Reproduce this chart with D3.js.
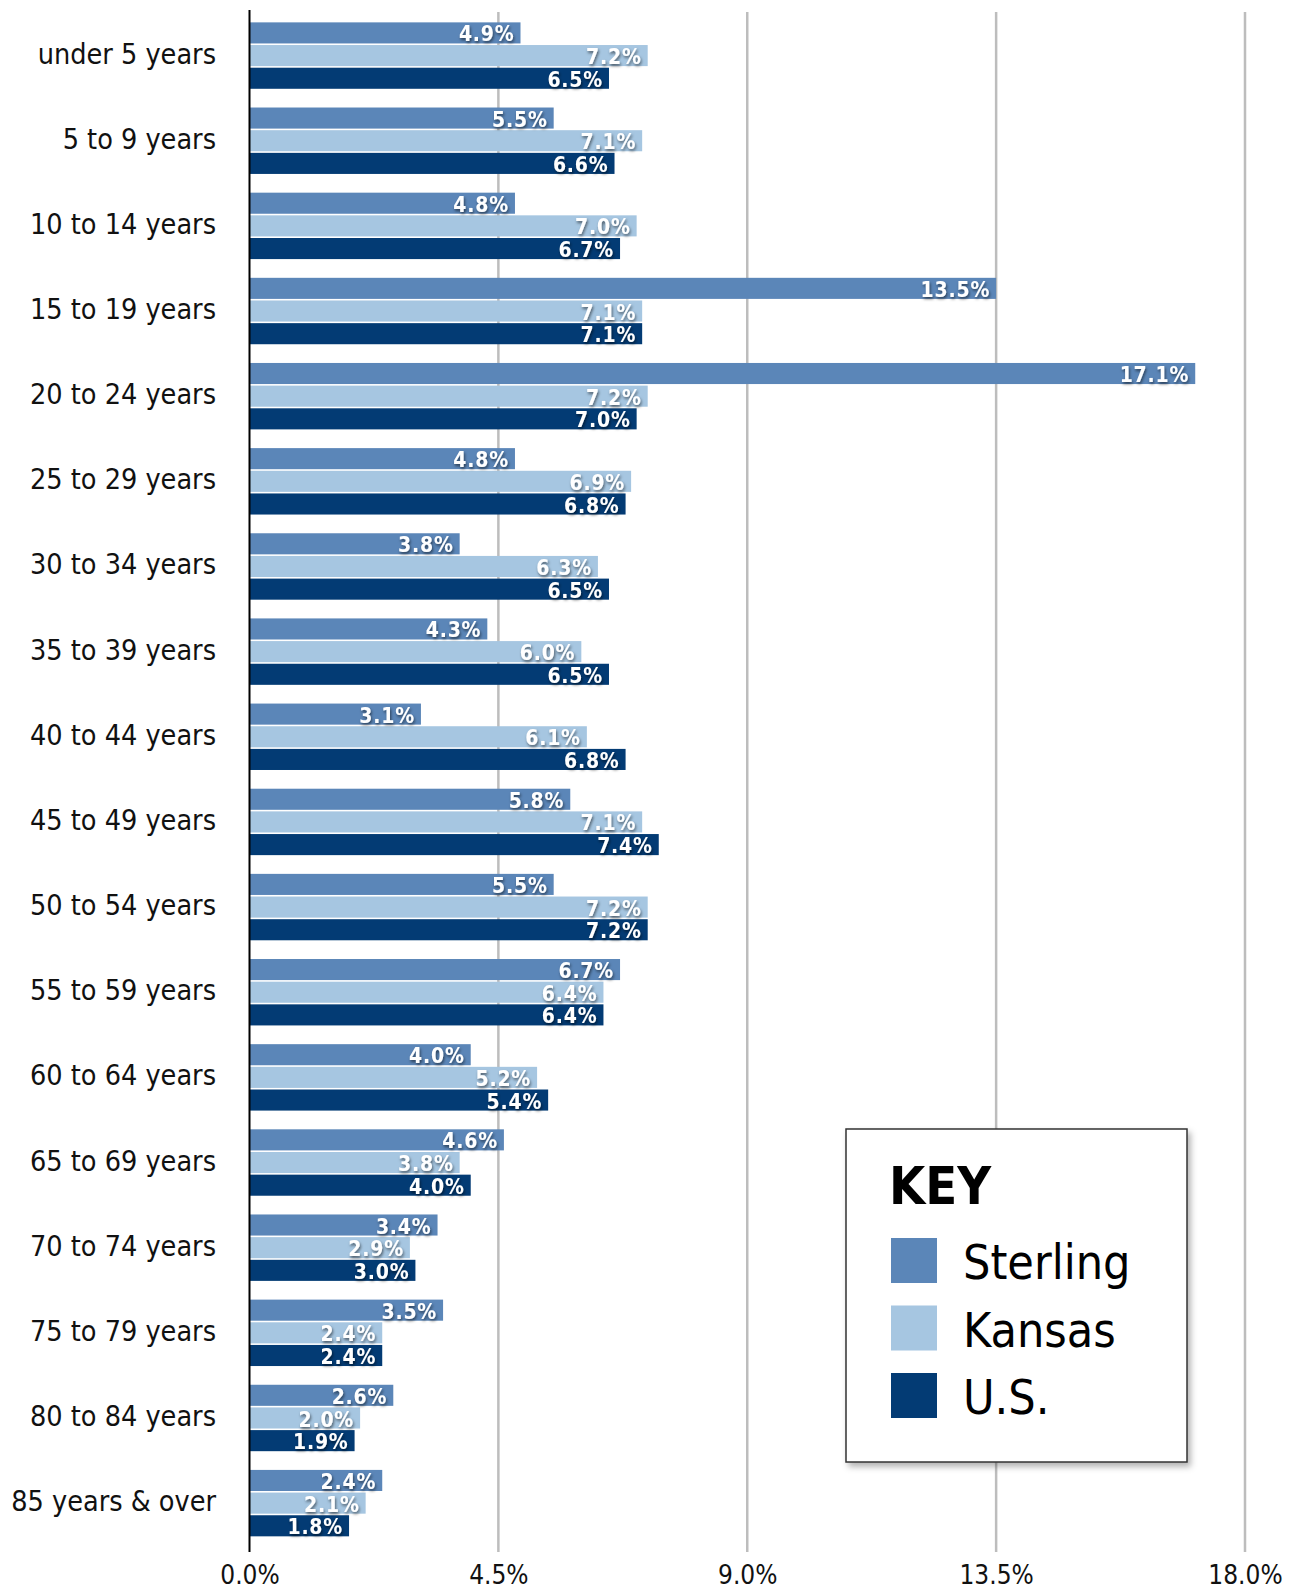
<!DOCTYPE html>
<html>
<head>
<meta charset="utf-8">
<script src="https://cdn.jsdelivr.net/npm/d3@7"></script>
<style>
  body { margin: 0; background: #fff; }
  svg { display: block; }
</style>
</head>
<body>
<script>
// age groups, top to bottom
var ageGroups = ['under 5 years', '5 to 9 years', '10 to 14 years', '15 to 19 years',
    '20 to 24 years', '25 to 29 years', '30 to 34 years', '35 to 39 years',
    '40 to 44 years', '45 to 49 years', '50 to 54 years', '55 to 59 years',
    '60 to 64 years', '65 to 69 years', '70 to 74 years', '75 to 79 years',
    '80 to 84 years', '85 years & over'];

var sterling = [4.9, 5.5, 4.8, 13.5, 17.1, 4.8, 3.8, 4.3, 3.1, 5.8, 5.5, 6.7, 4.0, 4.6, 3.4, 3.5, 2.6, 2.4];
var kansas   = [7.2, 7.1, 7.0, 7.1, 7.2, 6.9, 6.3, 6.0, 6.1, 7.1, 7.2, 6.4, 5.2, 3.8, 2.9, 2.4, 2.0, 2.1];
var us       = [6.5, 6.6, 6.7, 7.1, 7.0, 6.8, 6.5, 6.5, 6.8, 7.4, 7.2, 6.4, 5.4, 4.0, 3.0, 2.4, 1.9, 1.8];

var seriesNames = ['Sterling', 'Kansas', 'U.S.'];
var seriesColors = ['#5b86b8', '#a6c6e1', '#033b74'];
var xTicks = [0, 4.5, 9, 13.5, 18];

var width = 1296,
    height = 1590;

var svg = d3.select('body').append('svg')
    .attr('width', width)
    .attr('height', height);

var defs = svg.append('defs');
defs.append('filter')
    .attr('id', 'txt-shadow')
    .attr('x', '-20%').attr('y', '-30%').attr('width', '140%').attr('height', '180%')
    .append('feDropShadow')
    .attr('dx', 1).attr('dy', 2).attr('stdDeviation', 1.6)
    .attr('flood-color', '#000').attr('flood-opacity', 0.55);
defs.append('filter')
    .attr('id', 'box-shadow')
    .attr('x', '-10%').attr('y', '-10%').attr('width', '130%').attr('height', '130%')
    .append('feDropShadow')
    .attr('dx', 3).attr('dy', 4).attr('stdDeviation', 3)
    .attr('flood-color', '#000').attr('flood-opacity', 0.3);

var x = d3.scaleLinear().domain([0, 18]).range([249.5, 1245]);

var y = d3.scaleBand()
    .domain(ageGroups)
    .range([13, 1545.7])
    .paddingInner(0.22)
    .paddingOuter(0.11);

var ySub = d3.scaleBand()
    .domain(seriesNames)
    .range([0, y.bandwidth()])
    .paddingInner(0.07);

var rows = ageGroups.map(function(g, i) {
    return {group: g, values: [sterling[i], kansas[i], us[i]]};
});

// gridlines
svg.append('g').attr('class', 'grid')
    .selectAll('line')
    .data(xTicks.slice(1))
    .enter().append('line')
    .attr('x1', function(d) { return x(d); })
    .attr('x2', function(d) { return x(d); })
    .attr('y1', 12)
    .attr('y2', 1552)
    .attr('stroke', '#bdbdbd')
    .attr('stroke-width', 2.5);

// bars
var groupG = svg.append('g').selectAll('g')
    .data(rows)
    .enter().append('g')
    .attr('transform', function(d) { return 'translate(0,' + y(d.group) + ')'; });

groupG.selectAll('rect')
    .data(function(d) { return d.values.map(function(v, j) { return {key: seriesNames[j], value: v, idx: j}; }); })
    .enter().append('rect')
    .attr('x', x(0))
    .attr('y', function(d) { return ySub(d.key); })
    .attr('width', function(d) { return x(d.value) - x(0); })
    .attr('height', ySub.bandwidth())
    .attr('fill', function(d) { return seriesColors[d.idx]; });

groupG.selectAll('text')
    .data(function(d) { return d.values.map(function(v, j) { return {key: seriesNames[j], value: v}; }); })
    .enter().append('text')
    .attr('x', function(d) { return x(d.value) - 6; })
    .attr('y', function(d) { return ySub(d.key) + ySub.bandwidth() - 2; })
    .attr('text-anchor', 'end')
    .attr('font-family', '"DejaVu Sans Condensed", "DejaVu Sans", sans-serif')
    .attr('font-weight', 'bold')
    .attr('font-size', 21)
    .attr('letter-spacing', 0.8)
    .attr('fill', '#fff')
    .attr('filter', 'url(#txt-shadow)')
    .text(function(d) { return d.value.toFixed(1) + '%'; });

// category labels
svg.append('g').selectAll('text')
    .data(ageGroups)
    .enter().append('text')
    .attr('x', 216)
    .attr('y', function(d) { return y(d) + y.bandwidth() / 2 - 2; })
    .attr('dy', '0.35em')
    .attr('text-anchor', 'end')
    .attr('font-family', '"DejaVu Sans Condensed", "DejaVu Sans", sans-serif')
    .attr('font-size', 28.5)
    .attr('fill', '#111')
    .text(function(d) { return d; });

// y axis line
svg.append('line')
    .attr('x1', x(0)).attr('x2', x(0))
    .attr('y1', 10).attr('y2', 1552)
    .attr('stroke', '#000')
    .attr('stroke-width', 2);

// x tick labels
var xAxis = d3.axisBottom(x)
    .tickValues(xTicks)
    .tickSize(0)
    .tickPadding(0)
    .tickFormat(function(d) { return d.toFixed(1) + '%'; });

var axisG = svg.append('g')
    .attr('transform', 'translate(0,1563)')
    .call(xAxis);
axisG.select('.domain').remove();
axisG.selectAll('text')
    .attr('font-family', '"DejaVu Sans Condensed", "DejaVu Sans", sans-serif')
    .attr('font-size', 26)
    .attr('fill', '#111')
    .attr('dy', '0.8em');

// legend
var legend = svg.append('g').attr('transform', 'translate(846,1129)');
legend.append('rect')
    .attr('width', 341)
    .attr('height', 333)
    .attr('fill', '#fff')
    .attr('stroke', '#333')
    .attr('stroke-width', 1.5)
    .attr('filter', 'url(#box-shadow)');
legend.append('text')
    .attr('x', 43)
    .attr('y', 75)
    .attr('font-family', '"DejaVu Sans Condensed", "DejaVu Sans", sans-serif')
    .attr('font-weight', 'bold')
    .attr('font-size', 52)
    .attr('fill', '#000')
    .text('KEY');

var item = legend.selectAll('g.item')
    .data(seriesNames)
    .enter().append('g')
    .attr('class', 'item')
    .attr('transform', function(d, i) { return 'translate(45,' + (109 + i * 67.5) + ')'; });
item.append('rect')
    .attr('width', 46)
    .attr('height', 45)
    .attr('fill', function(d, i) { return seriesColors[i]; });
item.append('text')
    .attr('x', 72)
    .attr('y', 41)
    .attr('font-family', '"DejaVu Sans Condensed", "DejaVu Sans", sans-serif')
    .attr('font-size', 48)
    .attr('fill', '#000')
    .text(function(d) { return d; });
</script>
</body>
</html>
